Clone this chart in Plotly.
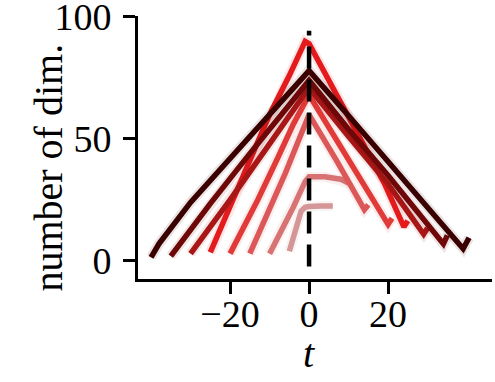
import plotly.graph_objects as go

# ---- data ----
t_A = [-5, -4, -3, -2, -1, 0, 3, 6]
v_A = [4, 10, 16.5, 20.5, 22, 22.3, 22.5, 22.5]

t_B = [-10, -8, -6, -4, -2, -1, 0, 4, 8, 10]
v_B = [3, 9, 15.5, 22, 29, 32.5, 34.5, 34.5, 33.5, 32]

t_C = [-15, -12, -9, -6, -3, 0, 7, 14, 15]
v_C = [3, 13.5, 25, 36, 48, 60, 41, 21, 23]

t_D = [-20, -17, -13, -8, -4, 0, 10, 20, 21]
v_D = [3, 12, 25, 42, 56, 68, 41, 15, 17.5]

t_E = [-25, -20, -14, -10, -5, -1, 0, 10, 19, 24, 25]
v_E = [3.5, 22, 44, 60, 76, 90, 89, 59, 32, 14, 16.5]

t_F = [-30, -27, -20, -10, 0, 10, 20, 29, 30]
v_F = [3, 9.5, 25, 48, 71, 51, 31.5, 11, 13.5]

t_G = [-35, -32, -25, -15, 0, 10, 20, 34, 35]
v_G = [2, 8.5, 23.5, 44, 74, 54, 35, 7, 10.5]

t_H = [-40, -38, -30, -20, -10, 0, 10, 20, 30, 39, 40.5]
v_H = [1.5, 7, 24, 42, 60, 78, 59.5, 41, 22.5, 5, 9.5]

series_t = [t_A, t_B, t_C, t_D, t_E, t_F, t_G, t_H]
series_v = [v_A, v_B, v_C, v_D, v_E, v_F, v_G, v_H]
colors = ["#d49696", "#d77373", "#dc5757", "#e03b38", "#e41b1c",
          "#a81616", "#6e0808", "#3a0000"]

vline_t = [0, 0]
vline_v = [-2.3, 94.4]

x_ticks = [-20, 0, 20]
y_ticks = [0, 50, 100]

FONT = "Liberation Serif"

fig = go.Figure()
for t, v, c in zip(series_t, series_v, colors):
    fig.add_trace(go.Scatter(x=t, y=v, mode="lines",
                             line=dict(color=c, width=10),
                             opacity=0.1, hoverinfo="skip", showlegend=False))
    fig.add_trace(go.Scatter(x=t, y=v, mode="lines",
                             line=dict(color=c, width=5.5),
                             showlegend=False))

fig.add_trace(go.Scatter(x=vline_t, y=vline_v, mode="lines",
                         line=dict(color="black", width=4.5, dash="22px,11px"),
                         showlegend=False))

fig.update_layout(
    width=495, height=382,
    margin=dict(l=138, r=3, t=16, b=103),
    plot_bgcolor="white", paper_bgcolor="white",
    font=dict(family=FONT, size=38, color="black"),
    xaxis=dict(range=[-43.3, 46.3], tickvals=x_ticks, showgrid=False,
               zeroline=False, showline=True, linecolor="black", linewidth=3,
               ticks="outside", ticklen=12, tickwidth=3, tickcolor="black",
               ticklabelstandoff=-13, automargin=False),
    yaxis=dict(range=[-7.4, 100.4], tickvals=y_ticks, showgrid=False,
               zeroline=False, showline=True, linecolor="black", linewidth=3,
               ticks="outside", ticklen=12, tickwidth=3, tickcolor="black",
               ticklabelstandoff=4, automargin=False,
               ticklabeloverflow="allow"),
    annotations=[
        dict(text="number of dim.", xref="paper", yref="paper",
             x=-0.254, y=0.424, textangle=-90, showarrow=False,
             xanchor="center", yanchor="middle",
             font=dict(family=FONT, size=40)),
        dict(text="<i>t</i>", xref="x", yref="paper",
             x=0, y=-0.282, showarrow=False,
             xanchor="center", yanchor="middle",
             font=dict(family=FONT, size=40)),
    ],
)

fig.write_html("out.html", config={"displayModeBar": False},
               post_script="document.body.style.margin='0px';")
